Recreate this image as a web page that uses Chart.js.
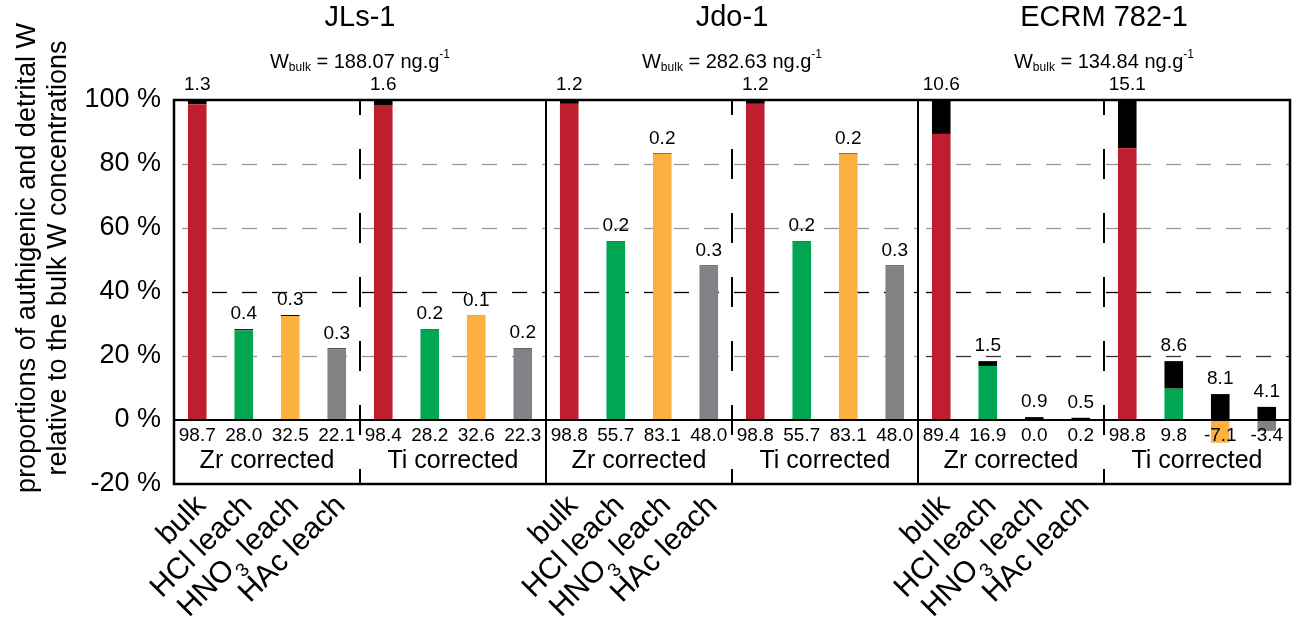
<!DOCTYPE html>
<html>
<head>
<meta charset="utf-8">
<script src="https://cdn.jsdelivr.net/npm/chart.js@4.4.1/dist/chart.umd.min.js"></script>
<style>
  html, body { margin: 0; padding: 0; background: #fff; }
  canvas { display: block; }
</style>
</head>
<body>
<canvas id="chart" width="1292" height="621"></canvas>
<script>
// samples, corrections and leach steps
const samples = ['JLs-1', 'Jdo-1', 'ECRM 782-1'];
const wBulk = ['188.07', '282.63', '134.84'];
const corrections = ['Zr corrected', 'Ti corrected'];
const steps = ['bulk', 'HCl leach', 'HNO3 leach', 'HAc leach'];
const stepColors = ['#BE1E2D', '#00A651', '#FBB040', '#808285'];

// authigenic part (coloured) and detrital part (black), in % of bulk W
const authigenic = [
  98.7, 28.0, 32.5, 22.1,   98.4, 28.2, 32.6, 22.3,
  98.8, 55.7, 83.1, 48.0,   98.8, 55.7, 83.1, 48.0,
  89.4, 16.9, 0.0, 0.2,     84.9, 9.8, -7.1, -3.4
];
const detrital = [
  1.3, 0.4, 0.3, 0.3,       1.6, 0.2, 0.1, 0.2,
  1.2, 0.2, 0.2, 0.3,       1.2, 0.2, 0.2, 0.3,
  10.6, 1.5, 0.9, 0.5,      15.1, 8.6, 8.1, 4.1
];
// numbers printed under the bars
const authigenicLabels = [
  '98.7', '28.0', '32.5', '22.1',  '98.4', '28.2', '32.6', '22.3',
  '98.8', '55.7', '83.1', '48.0',  '98.8', '55.7', '83.1', '48.0',
  '89.4', '16.9', '0.0', '0.2',    '98.8', '9.8', '-7.1', '-3.4'
];
const yTicks = [-20, 0, 20, 40, 60, 80, 100];

const labels = [];
const barColors = [];
samples.forEach(s => corrections.forEach(c => steps.forEach((st, k) => {
  labels.push(s + ' ' + c + ' ' + st);
  barColors.push(stepColors[k]);
})));

const FONT = '"Liberation Sans", Arial, sans-serif';

const overlay = {
  id: 'overlay',
  beforeDatasetsDraw(chart) {
    const { ctx, chartArea: a, scales: { x, y } } = chart;
    const edge = i => (x.getPixelForValue(i) + x.getPixelForValue(i + 1)) / 2;
    const panelX = [a.left, edge(7), edge(15), a.right];
    ctx.save();
    ctx.setLineDash([15, 15]);
    ctx.lineWidth = 1.3;
    for (let p = 0; p < 3; p++) {
      [20, 40, 60, 80].forEach(v => {
        ctx.strokeStyle = v === 40 ? '#000' : (p === 2 && v === 20 ? '#333' : '#999');
        const py = Math.round(y.getPixelForValue(v)) + 0.5;
        ctx.beginPath();
        ctx.moveTo(panelX[p] + 8, py);
        ctx.lineTo(panelX[p + 1], py);
        ctx.stroke();
      });
    }
    ctx.restore();
  },
  afterDatasetsDraw(chart) {
    const { ctx, chartArea: a, scales: { x, y } } = chart;
    const edge = i => (x.getPixelForValue(i) + x.getPixelForValue(i + 1)) / 2;
    const panelX = [a.left, edge(7), edge(15), a.right];
    ctx.save();

    // zero line
    ctx.strokeStyle = '#000';
    ctx.lineWidth = 2;
    ctx.beginPath();
    ctx.moveTo(a.left, y.getPixelForValue(0));
    ctx.lineTo(a.right, y.getPixelForValue(0));
    ctx.stroke();

    // dashed separators between Zr and Ti corrections
    ctx.setLineDash([30, 34]);
    ctx.lineDashOffset = 15;
    [3, 11, 19].forEach(i => {
      const px = edge(i);
      ctx.beginPath();
      ctx.moveTo(px, a.top);
      ctx.lineTo(px, a.bottom);
      ctx.stroke();
    });
    ctx.setLineDash([]);

    // solid panel separators and frame
    [7, 15].forEach(i => {
      ctx.beginPath();
      ctx.moveTo(edge(i), a.top);
      ctx.lineTo(edge(i), a.bottom);
      ctx.stroke();
    });
    ctx.lineWidth = 2.5;
    ctx.strokeRect(a.left, a.top, a.right - a.left, a.bottom - a.top);

    ctx.fillStyle = '#000';
    ctx.textAlign = 'center';
    ctx.textBaseline = 'middle';

    // numbers above and below the bars
    ctx.font = '19px ' + FONT;
    authigenic.forEach((v, i) => {
      const px = x.getPixelForValue(i);
      const top = Math.max(v, 0) + detrital[i];
      ctx.fillText(detrital[i].toFixed(1), px, y.getPixelForValue(top) - 15);
      ctx.fillText(authigenicLabels[i], px, y.getPixelForValue(-5));
    });

    // correction labels
    ctx.font = '25px ' + FONT;
    for (let g = 0; g < 6; g++) {
      const x0 = g === 0 ? a.left : edge(g * 4 - 1);
      const x1 = g === 5 ? a.right : edge(g * 4 + 3);
      ctx.fillText(corrections[g % 2], (x0 + x1) / 2, y.getPixelForValue(-13));
    }

    // sample titles and bulk W
    for (let p = 0; p < 3; p++) {
      const cx = (panelX[p] + panelX[p + 1]) / 2;
      ctx.font = '29px ' + FONT;
      ctx.textAlign = 'center';
      ctx.fillText(samples[p], cx, 18);
      const parts = [
        ['W', '20px', 0], ['bulk', '12px', 6], [' = ' + wBulk[p] + ' ng.g', '20px', 0], ['-1', '12px', -7]
      ];
      let total = 0;
      parts.forEach(pt => { ctx.font = pt[1] + ' ' + FONT; total += ctx.measureText(pt[0]).width; });
      let cur = cx - total / 2;
      ctx.textAlign = 'left';
      parts.forEach(pt => {
        ctx.font = pt[1] + ' ' + FONT;
        ctx.fillText(pt[0], cur, 62 + pt[2]);
        cur += ctx.measureText(pt[0]).width;
      });
    }

    // rotated step labels under each Zr group
    for (let p = 0; p < 3; p++) {
      steps.forEach((st, k) => {
        const px = x.getPixelForValue(p * 8 + k);
        ctx.save();
        ctx.translate(px + 4, a.bottom + 17);
        ctx.rotate(-Math.PI / 4);
        ctx.textAlign = 'left';
        ctx.textBaseline = 'middle';
        const parts = st === 'HNO3 leach'
          ? [['HNO', '30px', 0], ['3', '19px', 13], [' leach', '30px', 0]]
          : [[st, '30px', 0]];
        let total = 0;
        parts.forEach(pt => { ctx.font = pt[1] + ' ' + FONT; total += ctx.measureText(pt[0]).width; });
        let cur = -total;
        parts.forEach(pt => {
          ctx.font = pt[1] + ' ' + FONT;
          ctx.fillText(pt[0], cur, pt[2]);
          cur += ctx.measureText(pt[0]).width;
        });
        ctx.restore();
      });
    }

    // y axis title
    ctx.save();
    ctx.translate(28, 258);
    ctx.rotate(-Math.PI / 2);
    ctx.textAlign = 'center';
    ctx.font = '27px ' + FONT;
    ctx.fillText('proportions of authigenic and detrital W', 0, 0);
    ctx.fillText('relative to the bulk W concentrations', 0, 31);
    ctx.restore();

    ctx.restore();
  }
};

new Chart(document.getElementById('chart'), {
  type: 'bar',
  data: {
    labels: labels,
    datasets: [
      { label: 'authigenic', data: authigenic, backgroundColor: barColors, stack: 's' },
      { label: 'detrital', data: detrital, backgroundColor: '#000', stack: 's' }
    ]
  },
  options: {
    responsive: false,
    devicePixelRatio: 1,
    animation: false,
    layout: { padding: { top: 100, bottom: 137, left: 0, right: 2 } },
    datasets: { bar: { categoryPercentage: 1, barPercentage: 0.4 } },
    scales: {
      x: { display: false, stacked: true },
      y: {
        stacked: true,
        min: -20,
        max: 100,
        afterFit: s => { s.width = 174; },
        afterBuildTicks: s => { s.ticks = yTicks.map(v => ({ value: v })); },
        grid: { display: false },
        border: { display: false },
        ticks: {
          color: '#000',
          padding: 5,
          font: { family: FONT, size: 27 },
          callback: v => v + ' %'
        }
      }
    },
    plugins: { legend: { display: false }, tooltip: { enabled: false } }
  },
  plugins: [overlay]
});
</script>
</body>
</html>
